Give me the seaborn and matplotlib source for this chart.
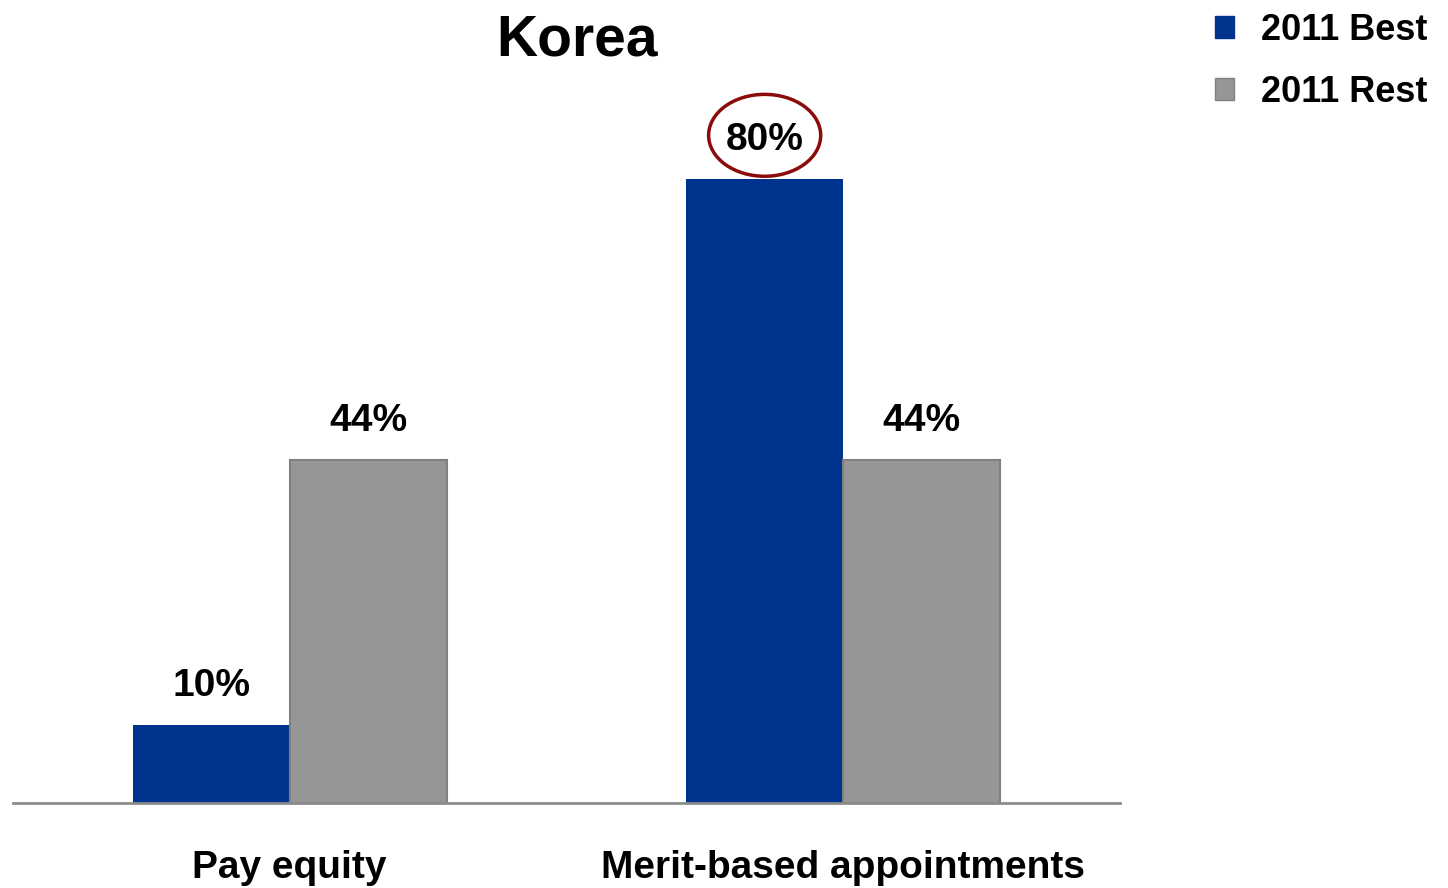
import matplotlib
matplotlib.use("Agg")
import matplotlib.pyplot as plt
from matplotlib.patches import Ellipse, Patch
import seaborn as sns
import pandas as pd

categories = ["Pay equity", "Merit-based appointments"]
series_names = ["2011 Best", "2011 Rest"]
best_2011 = [10, 80]
rest_2011 = [44, 44]
title = "Korea"
highlight = ("Merit-based appointments", "2011 Best")

colors = {"2011 Best": "#00338D", "2011 Rest": "#969696"}

df = pd.DataFrame({
    "category": categories * 2,
    "series": [series_names[0]] * len(categories) + [series_names[1]] * len(categories),
    "value": best_2011 + rest_2011,
})

sns.set_theme(style="white")
plt.rcParams["font.family"] = ["Liberation Sans", "DejaVu Sans"]
plt.rcParams["font.weight"] = "bold"
plt.rcParams["text.color"] = "black"
plt.rcParams["xtick.color"] = "black"
plt.rcParams["xtick.labelcolor"] = "black"

fig = plt.figure(figsize=(14.48, 8.88), dpi=100)
ax = fig.add_axes([13 / 1448, 1 - 803 / 888, (1120 - 13) / 1448, (803 - 101) / 888])

sns.barplot(data=df, x="category", y="value", hue="series", order=categories,
            hue_order=series_names, palette=colors, width=0.568, gap=0,
            saturation=1, ax=ax, legend=False)

ax.set_xlim(-0.5, 1.5)
ax.set_ylim(0, 90)

# bar edges and labels
for container, name in zip(ax.containers, series_names):
    for bar, cat in zip(container, categories):
        if name == "2011 Rest":
            bar.set_edgecolor("#808080")
            bar.set_linewidth(1.5)
        else:
            bar.set_edgecolor(colors[name])
            bar.set_linewidth(0)
        h = bar.get_height()
        xc = bar.get_x() + bar.get_width() / 2
        ax.annotate(f"{h:.0f}%", (xc, h), xytext=(0, 28), textcoords="offset points",
                    ha="center", va="center", fontsize=28, fontweight="bold", color="black")
        if (cat, name) == highlight:
            ax.add_patch(Ellipse((xc, h + 5.6), width=0.2025, height=10.5, fill=False,
                                 edgecolor="#8B0A0A", linewidth=2.5, clip_on=False))

for s in ["top", "left", "right"]:
    ax.spines[s].set_visible(False)
ax.spines["bottom"].set_color("#8c8c8c")
ax.spines["bottom"].set_linewidth(2)
ax.set_yticks([])
ax.set_xlabel("")
ax.set_ylabel("")
ax.tick_params(axis="x", length=0, pad=34, labelsize=28, labelcolor="black")
for lbl in ax.get_xticklabels():
    lbl.set_fontweight("bold")

fig.text(577 / 1448, 1 - 40 / 888, title, ha="center", va="center",
         fontsize=41, fontweight="bold", color="black")

handles = [Patch(facecolor=colors["2011 Best"], edgecolor=colors["2011 Best"]),
           Patch(facecolor=colors["2011 Rest"], edgecolor="#808080")]
leg = fig.legend(handles, series_names, loc="upper left", bbox_to_anchor=(1182 / 1448, 1.022),
                 frameon=False, handlelength=0.55, handleheight=0.55,
                 handletextpad=0.75, labelspacing=0.75, prop={"weight": "bold", "size": 26})
for t in leg.get_texts():
    t.set_color("black")

fig.savefig("out.png", dpi=100)
